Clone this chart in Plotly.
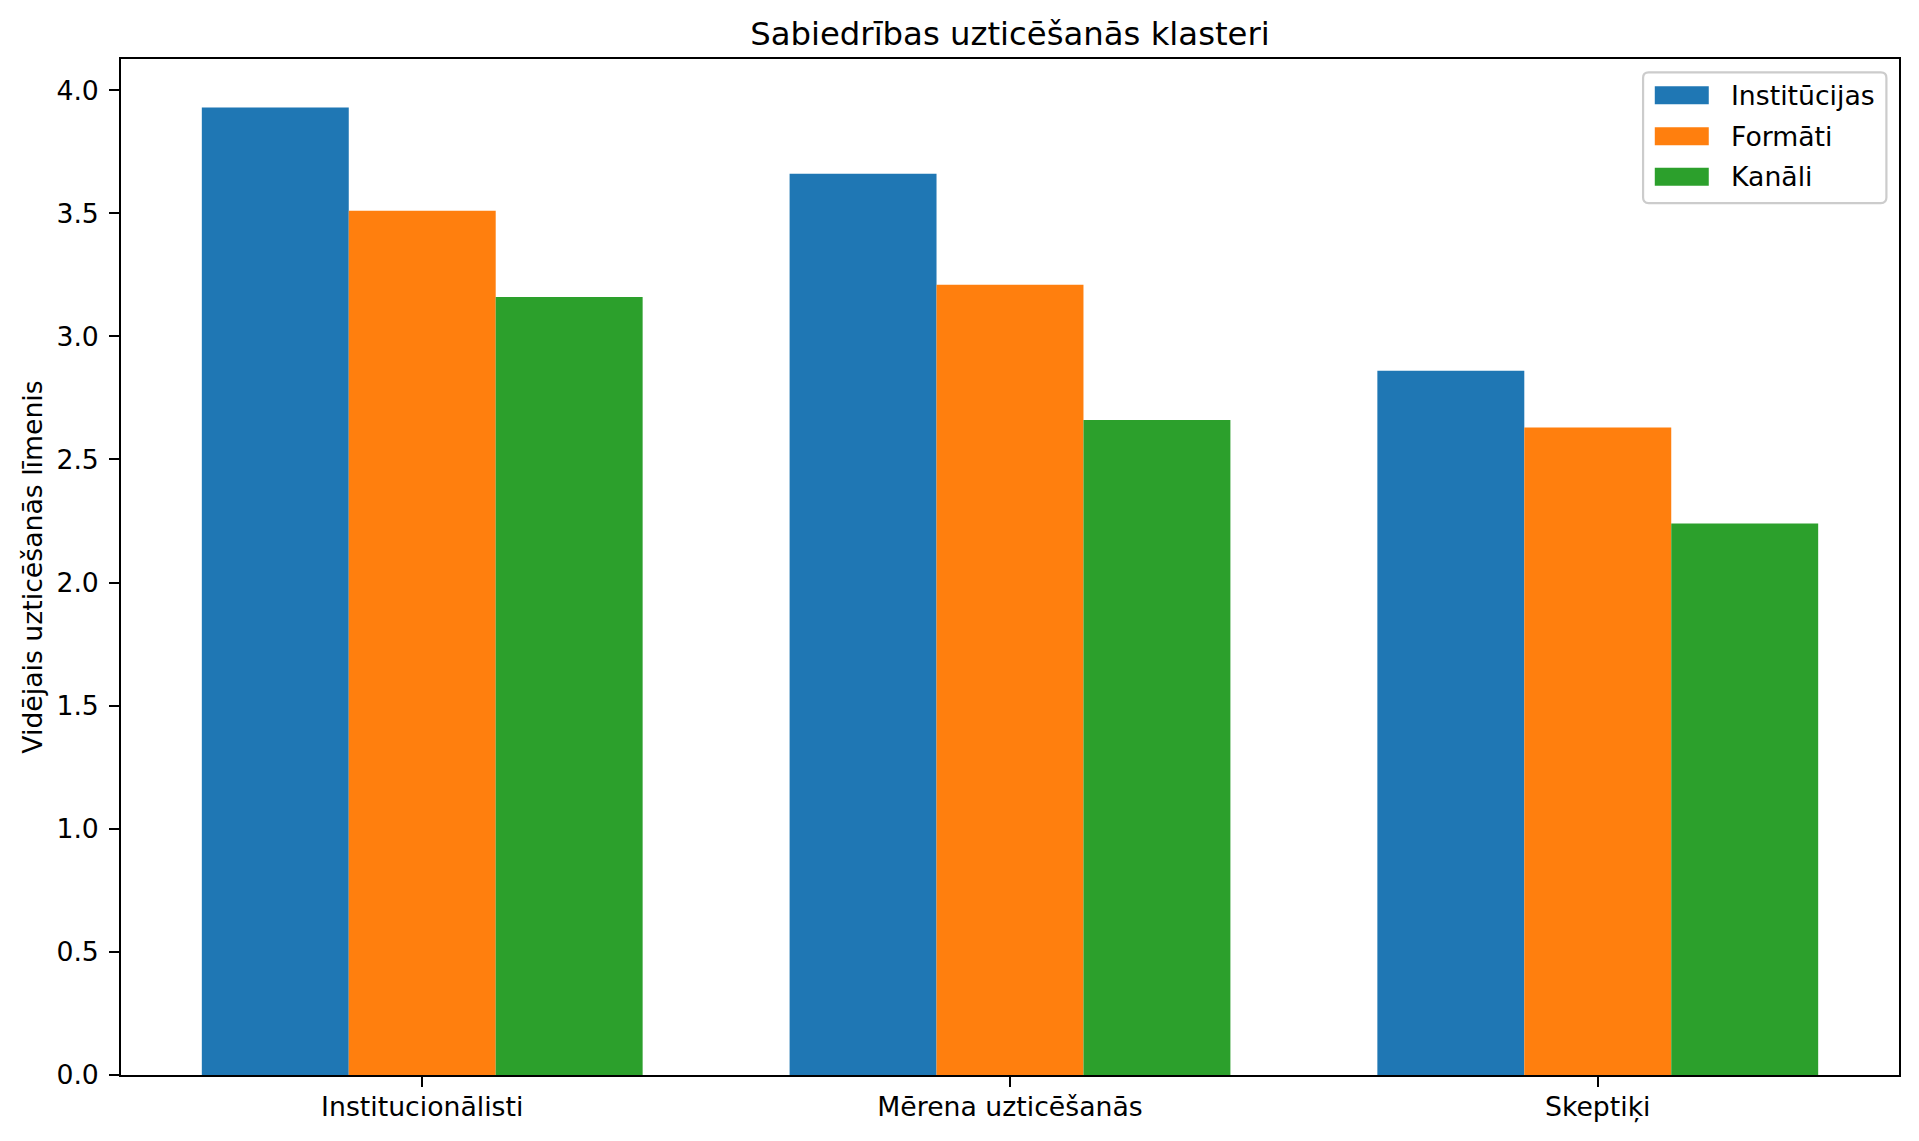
import plotly.graph_objects as go

# ---- data ----
categories = ["Institucionālisti", "Mērena uzticēšanās", "Skeptiķi"]
series_names = ["Institūcijas", "Formāti", "Kanāli"]
institucijas = [3.93, 3.66, 2.86]
formati = [3.51, 3.21, 2.63]
kanali = [3.16, 2.66, 2.24]
y_ticks = [0.0, 0.5, 1.0, 1.5, 2.0, 2.5, 3.0, 3.5, 4.0]

colors = ["#1f77b4", "#ff7f0e", "#2ca02c"]
series_values = [institucijas, formati, kanali]

W, H = 1919, 1141
L, R, T, B = 120.7, 1899.3, 59.3, 1075.0
FONT = "DejaVu Sans"
FS = 26.7

fig = go.Figure()
for name, vals, col in zip(series_names, series_values, colors):
    fig.add_trace(go.Bar(x=categories, y=vals, name=name, marker_color=col,
                         marker_line_width=0, showlegend=False))

ymax = max(max(v) for v in series_values) * 1.05

fig.update_layout(
    width=W, height=H,
    margin=dict(l=L, r=W - R, t=T, b=H - B, pad=0),
    paper_bgcolor="white", plot_bgcolor="white",
    barmode="group", bargap=0.25, bargroupgap=0,
    font=dict(family=FONT, size=FS, color="black"),
    title=dict(text="Sabiedrības uzticēšanās klasteri", x=(L + R) / 2 / W, xanchor="center",
               y=1 - 33.5 / H, yanchor="middle", yref="container",
               font=dict(family=FONT, size=32.3, color="black")),
    showlegend=False,
)
fig.update_xaxes(range=[-0.5125, 2.5125], showline=True, linecolor="black", linewidth=2.2,
                 mirror=True, ticks="outside", ticklen=9.7, tickwidth=2.2, tickcolor="black",
                 showgrid=False, zeroline=False, tickfont=dict(size=FS, family=FONT),
                 ticklabelstandoff=-3)
fig.update_yaxes(range=[0, ymax], showline=True, linecolor="black", linewidth=2.2,
                 mirror=True, ticks="outside", ticklen=9.7, tickwidth=2.2, tickcolor="black",
                 showgrid=False, zeroline=False, tickvals=y_ticks,
                 ticktext=[f"{v:.1f}" for v in y_ticks], tickfont=dict(size=FS, family=FONT),
                 title=dict(text="Vidējais uzticēšanās līmenis", standoff=6,
                            font=dict(size=FS, family=FONT)),
                 ticklabelstandoff=5)

# ---- matplotlib-style legend (upper right) ----
def px(xp):
    return (xp - L) / (R - L)

def py(yp):
    return (B - yp) / (B - T)

x0, x1, y0, y1 = 1643.3, 1886.7, 72.7, 203.3
r = 5.5
path = (f"M {px(x0 + r)},{py(y0)} L {px(x1 - r)},{py(y0)} Q {px(x1)},{py(y0)} {px(x1)},{py(y0 + r)} "
        f"L {px(x1)},{py(y1 - r)} Q {px(x1)},{py(y1)} {px(x1 - r)},{py(y1)} "
        f"L {px(x0 + r)},{py(y1)} Q {px(x0)},{py(y1)} {px(x0)},{py(y1 - r)} "
        f"L {px(x0)},{py(y0 + r)} Q {px(x0)},{py(y0)} {px(x0 + r)},{py(y0)} Z")
fig.add_shape(type="path", path=path, xref="paper", yref="paper",
              fillcolor="rgba(255,255,255,0.8)", line=dict(color="#cccccc", width=2.2))
row_centers = [95.5, 136.5, 177.0]
for name, col, cy in zip(series_names, colors, row_centers):
    fig.add_shape(type="rect", xref="paper", yref="paper",
                  x0=px(1655), x1=px(1709), y0=py(cy - 9), y1=py(cy + 9),
                  fillcolor=col, line=dict(width=0))
    fig.add_annotation(text=name, xref="paper", yref="paper", x=px(1729.5), y=py(cy),
                       xanchor="left", yanchor="middle", showarrow=False,
                       font=dict(size=FS, family=FONT, color="black"))

fig.write_html("out.html")
